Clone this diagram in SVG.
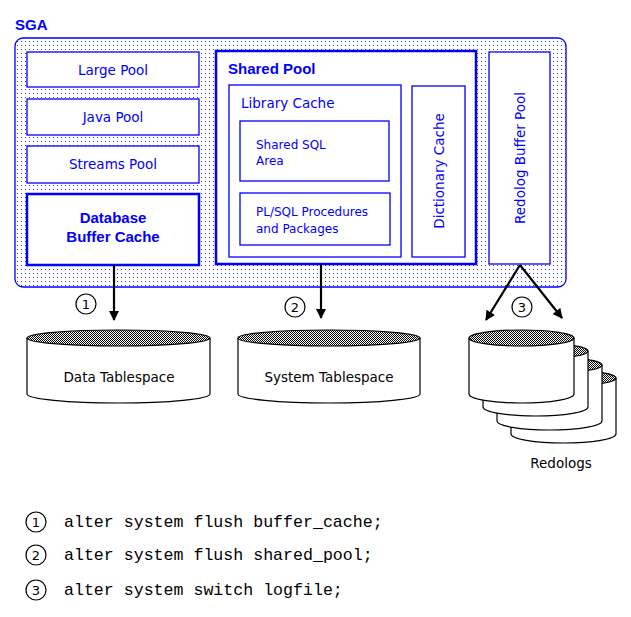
<svg xmlns="http://www.w3.org/2000/svg" width="631" height="617" viewBox="0 0 631 617">
<style>
.b{fill:#fff;stroke:#0000ff;stroke-width:1.3}
.bb{fill:#fff;stroke:#0000ff;stroke-width:2.5}
.t{font-family:"DejaVu Sans",sans-serif;font-size:13.5px;fill:#0000ff}
.tn{font-family:"DejaVu Sans",sans-serif;font-size:12px;fill:#0000ff}
.tb{font-family:"Liberation Sans",sans-serif;font-size:15px;font-weight:bold;fill:#0000ff}
.k{font-family:"DejaVu Sans",sans-serif;font-size:13.5px;fill:#000}
.m{font-family:"Liberation Mono",monospace;font-size:16.6px;fill:#000}
.c{fill:#fff;stroke:#000;stroke-width:1.2}
.cl{font-family:"DejaVu Sans",sans-serif;font-size:13px;fill:#000}
.ar{stroke:#000;stroke-width:2.2;fill:none;marker-end:url(#ah)}
.cyl{fill:#fff;stroke:#000;stroke-width:1.2}
.top{fill:url(#hatch);stroke:#000;stroke-width:1.2}
</style>
<defs>
<pattern id="dots" width="4" height="4" patternUnits="userSpaceOnUse"><rect width="4" height="4" fill="#fff"/><rect x="1" y="1" width="1" height="1" fill="#3333ff"/></pattern>
<pattern id="hatch" width="2" height="2" patternUnits="userSpaceOnUse"><rect width="2" height="2" fill="#fff"/><rect width="1" height="1" fill="#000"/><rect x="1" y="1" width="1" height="1" fill="#000"/></pattern>
<marker id="ah" markerWidth="10" markerHeight="10" refX="9" refY="5" orient="auto" markerUnits="userSpaceOnUse" viewBox="0 0 10 10"><path d="M0,0 L10,5 L0,10 z" fill="#000"/></marker>
</defs>
<g id="sga">
<text x="15" y="30" class="tb">SGA</text>
<rect x="15" y="38" width="551" height="249" rx="8" fill="url(#dots)" stroke="#0000ff" stroke-width="1.3"/>
</g>
<g id="large-pool"><rect x="27" y="52" width="172" height="35" class="b"/><text x="113" y="75" class="t" text-anchor="middle">Large Pool</text></g>
<g id="java-pool"><rect x="27" y="99" width="172" height="36" class="b"/><text x="113" y="122" class="t" text-anchor="middle">Java Pool</text></g>
<g id="streams-pool"><rect x="27" y="146" width="172" height="37" class="b"/><text x="113" y="169" class="t" text-anchor="middle">Streams Pool</text></g>
<g id="db-buffer"><rect x="27" y="194" width="172" height="71" class="bb"/><text x="113" y="223" class="tb" text-anchor="middle">Database</text><text x="113" y="242" class="tb" text-anchor="middle">Buffer Cache</text></g>
<g id="shared-pool"><rect x="216" y="51" width="260" height="213" class="bb"/><text x="228" y="74" class="tb">Shared Pool</text></g>
<g id="library-cache"><rect x="229" y="85" width="172" height="172" class="b"/><text x="241" y="108" class="t">Library Cache</text></g>
<g id="shared-sql"><rect x="240" y="121" width="149" height="60" class="b"/><text x="256" y="149" class="tn">Shared SQL</text><text x="256" y="165" class="tn">Area</text></g>
<g id="plsql"><rect x="240" y="193" width="150" height="52" class="b"/><text x="256" y="216" class="tn">PL/SQL Procedures</text><text x="256" y="233" class="tn">and Packages</text></g>
<g id="dict-cache"><rect x="412" y="86" width="53" height="171" class="b"/><text transform="translate(444,171) rotate(-90)" class="t" text-anchor="middle">Dictionary Cache</text></g>
<g id="redolog-buffer"><rect x="489" y="52" width="61" height="212" class="b"/><text transform="translate(525,158) rotate(-90)" class="t" text-anchor="middle">Redolog Buffer Pool</text></g>
<g id="connectors">
<line x1="114" y1="265" x2="114" y2="320" class="ar"/>
<line x1="321" y1="264" x2="321" y2="318" class="ar"/>
<line x1="520" y1="265" x2="486" y2="320" class="ar"/>
<line x1="520" y1="265" x2="562" y2="318" class="ar"/>
<circle cx="86" cy="304" r="10" class="c"/><text x="86" y="309" class="cl" text-anchor="middle">1</text>
<circle cx="295" cy="307" r="10" class="c"/><text x="295" y="312" class="cl" text-anchor="middle">2</text>
<circle cx="522" cy="307" r="10" class="c"/><text x="522" y="312" class="cl" text-anchor="middle">3</text>
</g>
<g id="data-ts">
<path d="M27,338 V394 A91.5,9 0 0 0 210,394 V338" class="cyl"/>
<ellipse cx="118.5" cy="338" rx="91.5" ry="8" class="top"/>
<text x="119" y="382" class="k" text-anchor="middle">Data Tablespace</text>
</g>
<g id="system-ts">
<path d="M238,338 V394 A91,9 0 0 0 420,394 V338" class="cyl"/>
<ellipse cx="329" cy="338" rx="91" ry="8" class="top"/>
<text x="329" y="382" class="k" text-anchor="middle">System Tablespace</text>
</g>
<g id="redologs">
<path d="M511,378 V434 A52.5,9 0 0 0 616,434 V378" class="cyl"/><ellipse cx="563.5" cy="378" rx="52.5" ry="8" class="top"/>
<path d="M497,365 V421 A52.5,9 0 0 0 602,421 V365" class="cyl"/><ellipse cx="549.5" cy="365" rx="52.5" ry="8" class="top"/>
<path d="M483,351 V407 A52.5,9 0 0 0 588,407 V351" class="cyl"/><ellipse cx="535.5" cy="351" rx="52.5" ry="8" class="top"/>
<path d="M469,338 V394 A52.5,9 0 0 0 574,394 V338" class="cyl"/><ellipse cx="521.5" cy="338" rx="52.5" ry="8" class="top"/>
<text x="561" y="468" class="k" text-anchor="middle">Redologs</text>
</g>
<g id="legend">
<circle cx="36" cy="522" r="10" class="c"/><text x="36" y="527" class="cl" text-anchor="middle">1</text>
<text x="64" y="527" class="m">alter system flush buffer_cache;</text>
<circle cx="36" cy="555" r="10" class="c"/><text x="36" y="560" class="cl" text-anchor="middle">2</text>
<text x="64" y="560" class="m">alter system flush shared_pool;</text>
<circle cx="36" cy="590" r="10" class="c"/><text x="36" y="595" class="cl" text-anchor="middle">3</text>
<text x="64" y="595" class="m">alter system switch logfile;</text>
</g>
</svg>
